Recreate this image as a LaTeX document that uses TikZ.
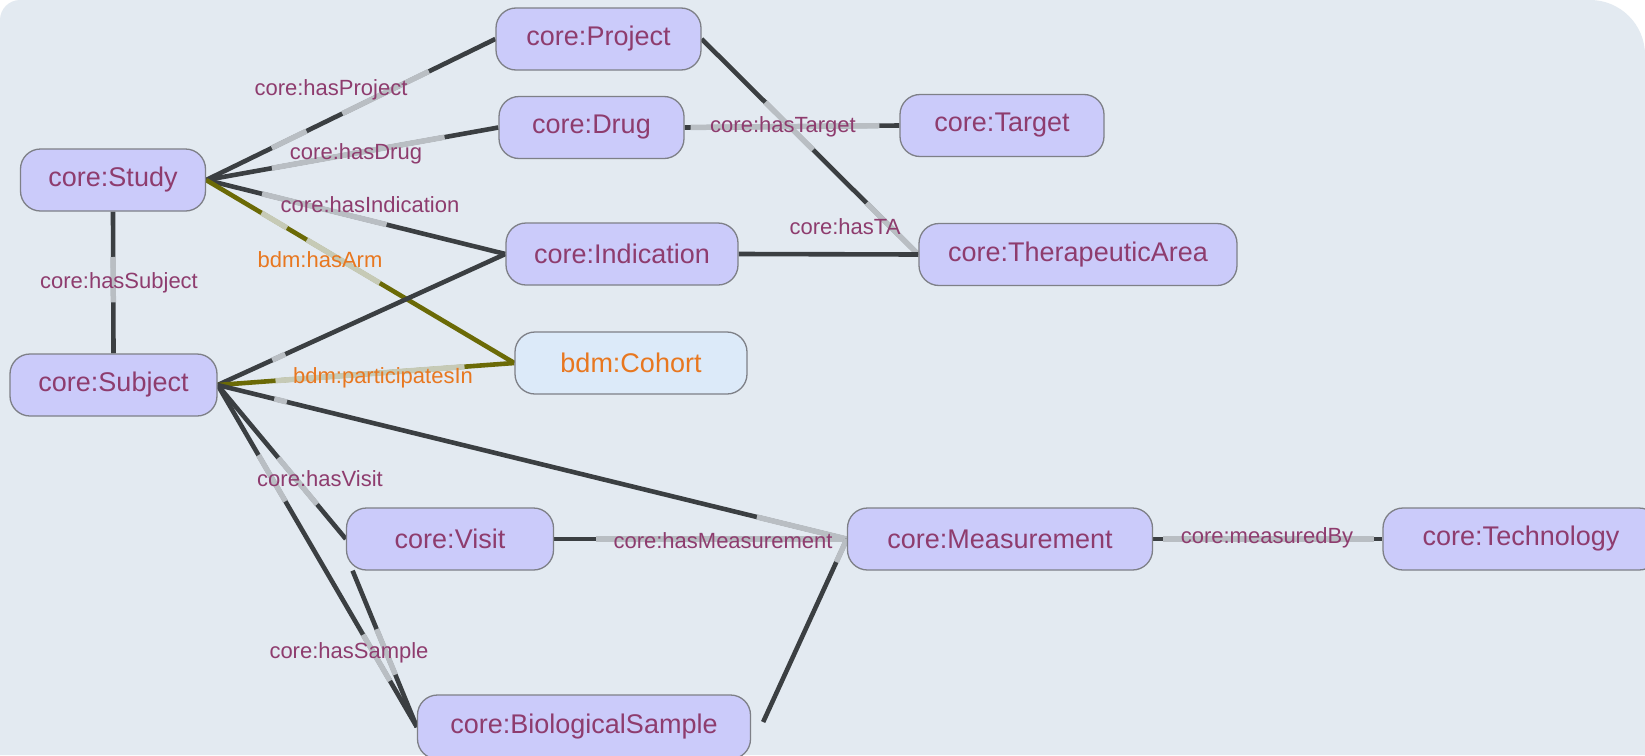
\documentclass[tikz,border=0pt]{standalone}
\usepackage{fontspec}
\setmainfont{Liberation Sans}
\usetikzlibrary{calc}

\definecolor{canvas}{HTML}{E3EAF1}
\definecolor{nodefill}{HTML}{CBCBFA}
\definecolor{nodeline}{HTML}{7E8087}
\definecolor{nodetext}{HTML}{8E3C6E}
\definecolor{cohortfill}{HTML}{DCEAF9}
\definecolor{cohorttext}{HTML}{E8771F}
\definecolor{edgedark}{HTML}{3B3F42}
\definecolor{edgelight}{HTML}{B9BEC3}
\definecolor{armdark}{HTML}{6B6A06}
\definecolor{armlight}{HTML}{C6CAB6}

\pgfdeclarelayer{canvaslayer}
\pgfdeclarelayer{edgelayer}
\pgfsetlayers{canvaslayer,edgelayer,main}

\tikzset{
  cls/.style={draw=nodeline, line width=1.3pt, fill=nodefill, rounded corners=20pt,
    minimum height=62pt, inner sep=0pt, text=nodetext, font=\fontsize{27}{32}\selectfont},
  cohortcls/.style={cls, fill=cohortfill, text=cohorttext},
  rel/.style={draw=edgedark, line width=4.6pt},
  relhi/.style={draw=edgelight, line width=5.4pt},
  armrel/.style={draw=armdark, line width=4.6pt},
  armhi/.style={draw=armlight, line width=5.4pt},
  rellabel/.style={font=\fontsize{22}{26}\selectfont, text=nodetext, inner sep=0pt},
  armlabel/.style={rellabel, text=cohorttext},
}

% a relation line with pale stretches given as fractions a/b along it
\newcommand\linkpath[5]{%
  \draw[#1] (#3) -- (#4);
  \foreach \hsA/\hsB in {#5} {\draw[#2] ($(#3)!\hsA!(#4)$) -- ($(#3)!\hsB!(#4)$);}
}

\begin{document}
\begin{tikzpicture}[x=1pt, y=-1pt]
\useasboundingbox (0,0) rectangle (1645,755);

\begin{pgfonlayer}{canvaslayer}
  \fill[white] (0,0) rectangle (1645,755);
  \fill[canvas] (0,755) -- (0,20) arc[start angle=180, end angle=270, radius=20]
    -- (1590,0) arc[start angle=270, end angle=360, radius=55] -- (1645,755) -- cycle;
\end{pgfonlayer}

\clip (0,0) rectangle (1645,755);

% classes
\node[cls, minimum width=185pt] (study) at (113,180) {core:Study};
\node[cls, minimum width=205pt] (project) at (598.5,39) {core:Project};
\node[cls, minimum width=185pt] (drug) at (591.5,127.5) {core:Drug};
\node[cls, minimum width=204pt] (target) at (1002,125.5) {core:Target};
\node[cls, minimum width=232pt] (indication) at (622,254) {core:Indication};
\node[cls, minimum width=318pt] (ta) at (1078,254.5) {core:TherapeuticArea};
\node[cohortcls, minimum width=232pt] (cohort) at (631,363) {bdm:Cohort};
\node[cls, minimum width=207pt] (subject) at (113.5,385) {core:Subject};
\node[cls, minimum width=207pt] (visit) at (450,539) {core:Visit};
\node[cls, minimum width=305pt] (meas) at (1000,539) {core:Measurement};
\node[cls, minimum width=276pt] (tech) at (1521,539) {core:Technology};
\node[cls, minimum width=333pt, minimum height=64pt] (bio) at (584,727) {core:BiologicalSample};

% relations
\begin{pgfonlayer}{edgelayer}
  \linkpath{rel}{relhi}{study.east}{project.west}{0.227/0.347, 0.471/0.77}
  \linkpath{rel}{relhi}{study.east}{drug.west}{0.225/0.816}
  \linkpath{rel}{relhi}{study.east}{indication.west}{0.187/0.603}
  \linkpath{armrel}{armhi}{study.east}{cohort.west}{0.18/0.262, 0.327/0.563}
  \linkpath{rel}{relhi}{study.south}{subject.north}{0.32/0.64}
  \linkpath{rel}{relhi}{subject.east}{indication.west}{0.19/0.235}
  \linkpath{armrel}{armhi}{subject.east}{cohort.west}{0.195/0.832}
  \linkpath{rel}{relhi}{drug.east}{target.west}{0.028/0.907}
  \linkpath{rel}{relhi}{project.east}{ta.west}{0.294/0.514, 0.761/1}
  \draw[rel] (indication.east) -- (ta.west);
  \linkpath{rel}{relhi}{subject.east}{meas.west}{0.09/0.11, 0.857/1}
  \linkpath{rel}{relhi}{subject.east}{visit.west}{0.473/0.775}
  \linkpath{rel}{relhi}{subject.east}{bio.west}{0.205/0.34, 0.73/0.865}
  \linkpath{rel}{relhi}{visit.-162}{bio.west}{0.374/0.665}
  \linkpath{rel}{relhi}{visit.east}{meas.west}{0.143/1}
  \coordinate (bioout) at ($(bio.east)+(12,-5)$);
  \linkpath{rel}{relhi}{bioout}{meas.west}{0.874/1}
  \linkpath{rel}{relhi}{meas.east}{tech.west}{0.043/0.965}
\end{pgfonlayer}

% relation labels
\node[rellabel] (lproject) at (331,90) {core:hasProject};
\node[rellabel] (ldrug) at (356,154) {core:hasDrug};
\node[rellabel] (lindication) at (370,205) {core:hasIndication};
\node[armlabel] (larm) at (320,260) {bdm:hasArm};
\node[rellabel] (lsubject) at (119,283) {core:hasSubject};
\node[armlabel] (lpart) at (383,378) {bdm:participatesIn};
\node[rellabel] (ltarget) at (783,127) {core:hasTarget};
\node[rellabel] (lta) at (845,227) {core:hasTA};
\node[rellabel] (lvisit) at (320,479) {core:hasVisit};
\node[rellabel] (lsample) at (349,653) {core:hasSample};
\node[rellabel] (lmeas) at (723,541) {core:hasMeasurement};
\node[rellabel] (lby) at (1267,538) {core:measuredBy};
\end{tikzpicture}
\end{document}
